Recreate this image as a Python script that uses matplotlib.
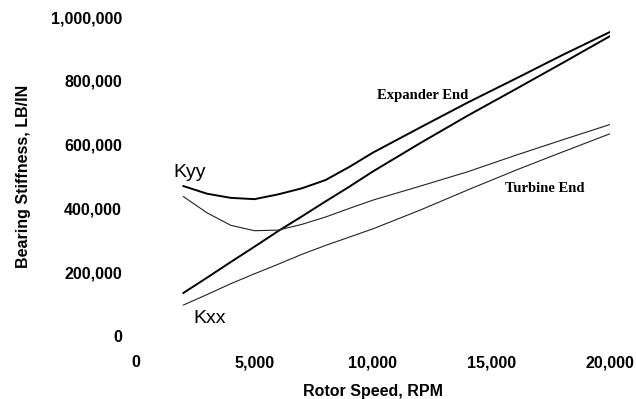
import matplotlib
matplotlib.use("Agg")
import matplotlib.pyplot as plt
from matplotlib.ticker import FuncFormatter

rpm = [2000, 3000, 4000, 5000, 6000, 7000, 8000, 9000, 10000, 12000, 14000, 16000, 18000, 20000]
expander_kyy = [470e3, 446e3, 433e3, 429e3, 444e3, 463e3, 489e3, 530e3, 575e3, 654e3, 732e3, 806e3, 881e3, 953e3]
expander_kxx = [135e3, 183e3, 232e3, 280e3, 329e3, 375e3, 422e3, 468e3, 516e3, 605e3, 691e3, 773e3, 856e3, 940e3]
turbine_kyy = [437e3, 386e3, 347e3, 330e3, 332e3, 350e3, 373e3, 400e3, 426e3, 470e3, 515e3, 566e3, 615e3, 663e3]
turbine_kxx = [97e3, 130e3, 164e3, 195e3, 225e3, 256e3, 284e3, 310e3, 336e3, 395e3, 458e3, 519e3, 577e3, 634e3]

x_ticks = [0, 5000, 10000, 15000, 20000]
y_ticks = [0, 200000, 400000, 600000, 800000, 1000000]

fig = plt.figure(figsize=(6.36, 3.99), dpi=100)
ax = fig.add_axes([136/636, 63/399, 474/636, 319/399])

ax.plot(rpm, expander_kyy, color="black", lw=1.4, solid_joinstyle="round")
ax.plot(rpm, expander_kxx, color="black", lw=1.4, solid_joinstyle="round")
ax.plot(rpm, turbine_kyy, color="#222222", lw=0.8, solid_joinstyle="round")
ax.plot(rpm, turbine_kxx, color="#222222", lw=0.8, solid_joinstyle="round")

ax.axvline(20000, color="#999999", lw=0.6, ls=(0, (6, 2, 1, 2)), ymin=0, ymax=1.0)

ax.set_xlim(0, 20000)
ax.set_ylim(0, 1000000)
for s in ax.spines.values():
    s.set_visible(False)

fmt = FuncFormatter(lambda v, p: f"{int(v):,}")
ax.set_xticks(x_ticks)
ax.set_yticks(y_ticks)
ax.xaxis.set_major_formatter(fmt)
ax.yaxis.set_major_formatter(fmt)
ax.tick_params(axis="both", length=0)
ax.tick_params(axis="x", pad=14)
ax.tick_params(axis="y", pad=10)
for lab in ax.get_xticklabels() + ax.get_yticklabels():
    lab.set_fontfamily("Liberation Sans")
    lab.set_fontweight("bold")
    lab.set_fontsize(11.5)

ax.set_xlabel("Rotor Speed, RPM", fontfamily="Liberation Sans", fontweight="bold", fontsize=11.5, labelpad=10)
ax.set_ylabel("Bearing Stiffness, LB/IN", fontfamily="Liberation Sans", fontweight="bold", fontsize=11.5, labelpad=14)

ax.text(1560, 498000, "Kyy", fontfamily="Liberation Sans", fontsize=14, ha="left", va="baseline")
ax.text(2400, 41000, "Kxx", fontfamily="Liberation Sans", fontsize=14, ha="left", va="baseline")
ax.text(10170, 742000, "Expander End", fontfamily="Liberation Serif", fontweight="bold", fontsize=10.5, ha="left", va="baseline")
ax.text(15570, 451000, "Turbine End", fontfamily="Liberation Serif", fontweight="bold", fontsize=10.5, ha="left", va="baseline")

fig.savefig("out.png", dpi=100)
